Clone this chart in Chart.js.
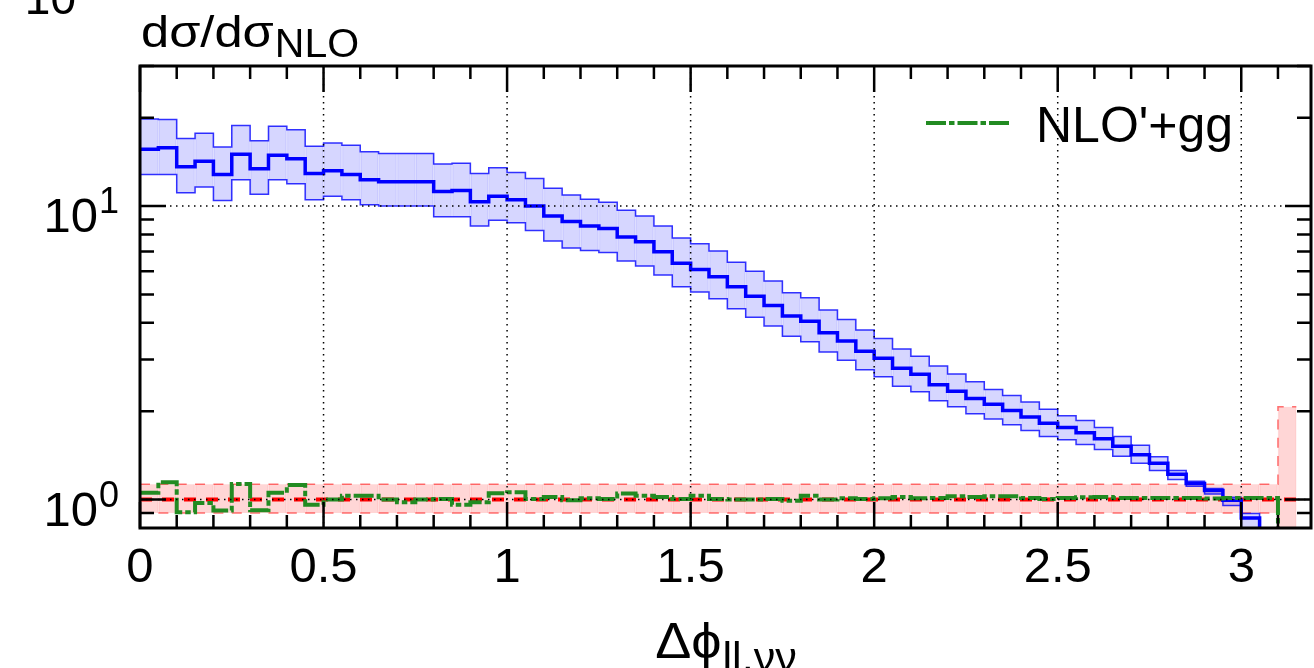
<!DOCTYPE html>
<html>
<head>
<meta charset="utf-8">
<script src="https://cdn.jsdelivr.net/npm/chart.js@4.4.1/dist/chart.umd.min.js"></script>
<style>
  html, body { margin: 0; padding: 0; background: #fff; }
  #ratio { display: block; }
</style>
</head>
<body>
<canvas id="ratio" width="1314" height="668"></canvas>
<script>
// ---------------- data: ratio to NLO, bins of 0.05 in delta phi ---------------- //
const BIN_WIDTH = 0.05;

// blue: central value and upper / lower edge of its band (62 bins, last one off scale)
const blueCentral = [15.6, 15.8, 13.6, 14.2, 12.8, 15.0, 13.4, 14.9, 14.5, 12.9,
                     13.2, 12.8, 12.3, 12.1, 12.1, 12.1, 11.2, 11.3, 10.35, 10.8,
                     10.5, 10.0, 9.25, 8.85, 8.55, 8.38, 7.84, 7.56, 6.99, 6.38,
                     6.08, 5.74, 5.31, 4.93, 4.58, 4.22, 4.05, 3.70, 3.47, 3.20,
                     3.03, 2.80, 2.67, 2.46, 2.34, 2.21, 2.11, 2.01, 1.91, 1.82,
                     1.76, 1.69, 1.61, 1.52, 1.42, 1.33, 1.22, 1.134, 1.073, 0.995,
                     0.866, 0.6];
const blueUpper   = [19.8, 19.7, 17.0, 17.7, 15.9, 18.8, 16.7, 18.7, 18.2, 16.0,
                     16.4, 16.1, 15.3, 15.1, 15.1, 15.1, 13.9, 14.0, 12.9, 13.5,
                     13.0, 12.4, 11.5, 10.9, 10.55, 10.3, 9.67, 9.25, 8.55, 7.78,
                     7.44, 7.03, 6.44, 6.0, 5.55, 5.07, 4.87, 4.42, 4.11, 3.78,
                     3.54, 3.26, 3.08, 2.85, 2.68, 2.52, 2.37, 2.26, 2.15, 2.03,
                     1.93, 1.86, 1.76, 1.64, 1.53, 1.40, 1.256, 1.155, 1.09, 1.018,
                     0.896, 0.65];
const blueLower   = [12.8, 12.8, 11.1, 11.6, 10.45, 12.3, 10.96, 12.3, 11.9, 10.5,
                     10.8, 10.5, 10.1, 10.0, 10.0, 10.0, 9.2, 9.2, 8.55, 8.94,
                     8.78, 8.26, 7.6, 7.2, 7.05, 6.94, 6.5, 6.25, 5.82, 5.31,
                     5.09, 4.83, 4.47, 4.18, 3.9, 3.6, 3.45, 3.18, 2.98, 2.77,
                     2.62, 2.43, 2.33, 2.17, 2.07, 1.96, 1.88, 1.80, 1.72, 1.64,
                     1.60, 1.54, 1.48, 1.405, 1.33, 1.256, 1.17, 1.11, 1.045, 0.954,
                     0.78, 0.55];

// NLO itself (=1) with its scale band (63 bins)
const nloCentral = [1, 1, 1, 1, 1, 1, 1, 1, 1, 1,  1, 1, 1, 1, 1, 1, 1, 1, 1, 1,
                    1, 1, 1, 1, 1, 1, 1, 1, 1, 1,  1, 1, 1, 1, 1, 1, 1, 1, 1, 1,
                    1, 1, 1, 1, 1, 1, 1, 1, 1, 1,  1, 1, 1, 1, 1, 1, 1, 1, 1, 1,
                    1, 1, 1];
const nloUpper = [1.128, 1.128, 1.128, 1.128, 1.128, 1.128, 1.128, 1.128, 1.128, 1.128,
                  1.128, 1.128, 1.128, 1.128, 1.128, 1.128, 1.128, 1.128, 1.128, 1.128,
                  1.128, 1.128, 1.128, 1.128, 1.128, 1.128, 1.128, 1.128, 1.128, 1.128,
                  1.128, 1.128, 1.128, 1.128, 1.128, 1.128, 1.128, 1.128, 1.128, 1.128,
                  1.128, 1.128, 1.128, 1.128, 1.128, 1.128, 1.128, 1.128, 1.128, 1.128,
                  1.128, 1.128, 1.128, 1.128, 1.128, 1.128, 1.128, 1.128, 1.128, 1.128,
                  1.128, 1.128, 2.07];
const nloLower = [0.90, 0.90, 0.90, 0.90, 0.90, 0.90, 0.90, 0.90, 0.90, 0.90,
                  0.90, 0.90, 0.90, 0.90, 0.90, 0.90, 0.90, 0.90, 0.90, 0.90,
                  0.90, 0.90, 0.90, 0.90, 0.90, 0.90, 0.90, 0.90, 0.90, 0.90,
                  0.90, 0.90, 0.90, 0.90, 0.90, 0.90, 0.90, 0.90, 0.90, 0.90,
                  0.90, 0.90, 0.90, 0.90, 0.90, 0.90, 0.90, 0.90, 0.90, 0.90,
                  0.90, 0.90, 0.90, 0.90, 0.90, 0.90, 0.90, 0.90, 0.90, 0.90,
                  0.90, 0.90, 0.5];

// NLO'+gg (63 bins)
const nloGG = [1.054, 1.146, 0.905, 0.974, 0.917, 1.13, 0.92, 1.054, 1.12, 0.96,
               1.0, 1.03, 1.03, 1.0, 0.98, 1.0, 1.005, 0.96, 0.98, 1.05,
               1.06, 1.005, 1.02, 0.995, 1.01, 1.005, 1.048, 1.03, 1.02, 1.005,
               1.03, 1.005, 1.0, 1.0, 1.005, 0.99, 1.03, 1.0, 1.01, 1.005,
               1.01, 1.02, 1.01, 1.013, 1.026, 1.02, 1.026, 1.026, 1.013, 1.005,
               1.013, 1.018, 1.02, 1.013, 1.013, 1.013, 1.013, 1.013, 1.008, 1.013,
               1.013, 1.013, 0.7];

// axis ticks
const xMajorTicks = [0, 0.5, 1, 1.5, 2, 2.5, 3];
const xMinorTicks = [0.1, 0.2, 0.3, 0.4, 0.6, 0.7, 0.8, 0.9, 1.1, 1.2, 1.3, 1.4,
                     1.6, 1.7, 1.8, 1.9, 2.1, 2.2, 2.3, 2.4, 2.6, 2.7, 2.8, 2.9, 3.1];
const yMajorTicks = [1, 10];
const yMinorTicks = [0.9, 2, 3, 4, 5, 6, 7, 8, 9, 20, 30];

const FONT = '"Liberation Sans", Arial, Helvetica, sans-serif';

// histogram helpers: step line through the bin edges, floating bar per bin
function steps(vals) {
  const pts = vals.map((v, i) => ({ x: i * BIN_WIDTH, y: v }));
  pts.push({ x: vals.length * BIN_WIDTH, y: vals[vals.length - 1] });
  return pts;
}
function bins(lo, hi) {
  return lo.map((v, i) => ({ x: (i + 0.5) * BIN_WIDTH, y: [v, hi[i]] }));
}

function stepLine(vals, color, width, dash, order, label) {
  return {
    type: 'line', label: label || '', data: steps(vals), stepped: true,
    borderColor: color, borderWidth: width, borderDash: dash || [],
    pointRadius: 0, fill: false, tension: 0, order: order
  };
}
function bandBars(lo, hi, fill, edge, order) {
  return {
    type: 'bar', data: bins(lo, hi), grouped: false,
    barPercentage: 1, categoryPercentage: 1,
    backgroundColor: fill, borderColor: edge, borderSkipped: false,
    borderWidth: { left: 1, right: 1, top: 0, bottom: 0 }, order: order
  };
}

// -------------------------- frame, ticks, labels -------------------------------- //
function drawText(ctx, str, x, y, size, align, stretch) {
  ctx.save();
  ctx.font = size + 'px ' + FONT;
  ctx.textAlign = align || 'left';
  ctx.textBaseline = 'alphabetic';
  const sx = stretch || 1;
  ctx.translate(x, y);
  ctx.scale(sx, 1);
  ctx.fillText(str, 0, 0);
  const w = ctx.measureText(str).width * sx;
  ctx.restore();
  return w;
}
function textWidth(ctx, str, size, stretch) {
  ctx.font = size + 'px ' + FONT;
  return ctx.measureText(str).width * (stretch || 1);
}

const framePlugin = {
  id: 'gnuFrame',
  afterDatasetsDraw(chart) {
    const { ctx, chartArea: a, scales: { x, y } } = chart;
    ctx.save();
    ctx.strokeStyle = '#000';

    // dotted grid at the major ticks
    ctx.lineWidth = 1.5;
    ctx.setLineDash([1.5, 4.5]);
    ctx.beginPath();
    xMajorTicks.forEach(v => {
      if (v === 0) return;
      const px = x.getPixelForValue(v);
      ctx.moveTo(px, a.top); ctx.lineTo(px, a.bottom);
    });
    yMajorTicks.forEach(v => {
      const py = y.getPixelForValue(v);
      ctx.moveTo(a.left, py); ctx.lineTo(a.right, py);
    });
    ctx.stroke();
    ctx.setLineDash([]);

    // inward ticks on all four sides
    ctx.lineWidth = 2.5;
    ctx.beginPath();
    const xt = (v, len) => {
      const px = x.getPixelForValue(v);
      ctx.moveTo(px, a.bottom); ctx.lineTo(px, a.bottom - len);
      ctx.moveTo(px, a.top); ctx.lineTo(px, a.top + len);
    };
    const yt = (v, len) => {
      const py = y.getPixelForValue(v);
      if (py < a.top || py > a.bottom) return;
      ctx.moveTo(a.left, py); ctx.lineTo(a.left + len, py);
      ctx.moveTo(a.right, py); ctx.lineTo(a.right - len, py);
    };
    xMajorTicks.forEach(v => xt(v, 26));
    xMinorTicks.forEach(v => xt(v, 13));
    yMajorTicks.forEach(v => yt(v, 26));
    yMinorTicks.forEach(v => yt(v, 14));
    ctx.stroke();

    // border
    ctx.lineWidth = 3;
    ctx.strokeRect(a.left, a.top, a.right - a.left, a.bottom - a.top);
    ctx.restore();
  },
  afterDraw(chart) {
    const { ctx, chartArea: a, scales: { y } } = chart;
    ctx.save();
    ctx.fillStyle = '#000';

    // y tick labels as powers of ten
    yMajorTicks.forEach(v => {
      const py = y.getPixelForValue(v);
      const exp = String(Math.round(Math.log10(v)));
      const w = textWidth(ctx, exp, 36);
      const supX = a.left - 21 - w;
      drawText(ctx, exp, supX, py + 7, 36, 'left');
      drawText(ctx, '10', supX - 1, py + 26, 49, 'right');
    });
    // label of the panel above, cut by the top edge
    drawText(ctx, '10', 76, 14, 46, 'right');

    // y title
    const w1 = drawText(ctx, 'd\u03c3/d\u03c3', a.left + 1, 47, 44, 'left', 1.15);
    drawText(ctx, 'NLO', a.left + 2 + w1, 57, 41, 'left');

    // x title
    const wm = textWidth(ctx, '\u0394\u03d5', 50, 1.08);
    const ws = textWidth(ctx, 'll,\u03bd\u03bd', 40, 1.08);
    const cx = (a.left + a.right) / 2;
    const x0 = cx - (wm + ws) / 2;
    drawText(ctx, '\u0394\u03d5', x0, 658, 50, 'left', 1.08);
    drawText(ctx, 'll,\u03bd\u03bd', x0 + wm + 1, 671, 40, 'left', 1.08);

    // legend entry for the dash-dot histogram
    const ds = chart.data.datasets.find(d => d.label === "NLO'+gg");
    ctx.strokeStyle = ds.borderColor;
    ctx.lineWidth = 4;
    ctx.setLineDash(ds.borderDash);
    ctx.beginPath();
    ctx.moveTo(926, 123); ctx.lineTo(1011, 123);
    ctx.stroke();
    ctx.setLineDash([]);
    drawText(ctx, ds.label, 1036, 142, 50, 'left');
    ctx.restore();
  }
};

// -------------------------- chart -------------------------------- //
const ctxRatio = document.getElementById('ratio');
const ratioChart = new Chart(ctxRatio, {
  data: {
    datasets: [
      bandBars(nloLower, nloUpper, 'rgba(255, 0, 0, 0.16)', 'rgba(255, 0, 0, 0.10)', 20),
      stepLine(nloUpper, 'rgba(255, 0, 0, 0.55)', 1.5, [10, 8.35], 19),
      stepLine(nloLower, 'rgba(255, 0, 0, 0.55)', 1.5, [10, 8.35], 18),
      bandBars(blueLower, blueUpper, 'rgba(0, 0, 255, 0.16)', 'rgba(0, 0, 255, 0.10)', 17),
      stepLine(blueUpper, 'rgba(0, 0, 255, 0.8)', 1.5, [], 16),
      stepLine(blueLower, 'rgba(0, 0, 255, 0.8)', 1.5, [], 15),
      stepLine(nloCentral, '#ff0000', 4, [12, 10], 14),
      stepLine(blueCentral, '#0000ff', 3.5, [], 13),
      stepLine(nloGG, '#228b22', 4, [20, 3, 5.5, 3], 12, "NLO'+gg")
    ]
  },
  options: {
    responsive: false,
    animation: false,
    devicePixelRatio: 1,
    layout: { padding: { top: 66, right: 3, left: 0, bottom: 0 } },
    plugins: { legend: { display: false }, tooltip: { enabled: false } },
    scales: {
      x: {
        type: 'linear', min: 0, max: 3.19, offset: false,
        grid: { display: false, drawTicks: false },
        border: { display: false },
        afterBuildTicks: (s) => { s.ticks = xMajorTicks.map(v => ({ value: v })); },
        afterFit: (s) => { s.height = 140; },
        ticks: {
          color: '#000', padding: 11, maxRotation: 0, autoSkip: false,
          font: { family: FONT, size: 49 },
          callback: (v) => String(v)
        }
      },
      y: {
        type: 'logarithmic', min: 0.8, max: 30,
        grid: { display: false, drawTicks: false },
        border: { display: false },
        ticks: { display: false },
        afterFit: (s) => { s.width = 140; }
      }
    }
  },
  plugins: [framePlugin]
});
</script>
</body>
</html>
